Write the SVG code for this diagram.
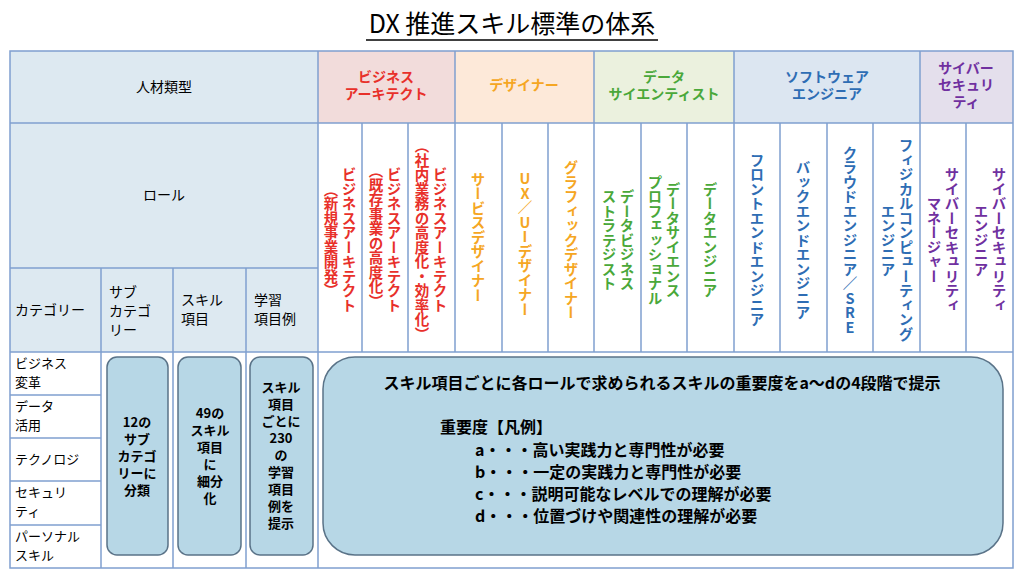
<svg xmlns="http://www.w3.org/2000/svg" width="1024" height="582" viewBox="0 0 1024 582">
<style>
text{font-family:"Noto Sans CJK JP","Noto Sans",sans-serif}
.b{font-weight:bold}
.h{font-size:14px;text-anchor:middle}
.v{writing-mode:vertical-rl;text-orientation:upright;font-size:14.5px;font-weight:bold;text-anchor:middle}
.g{stroke:#7f9fcf;stroke-width:1.5;fill:none}
.rb{fill:#b7d7e6;stroke:#5a7388;stroke-width:1.5}
.red{fill:#e8302a}.org{fill:#f5a623}.grn{fill:#4aa83a}.blu{fill:#2e6db4}.pur{fill:#7030a0}
</style>
<rect width="1024" height="582" fill="#fff"/>
<text x="512" y="33" text-anchor="middle" font-size="25">DX 推進スキル標準の体系</text>
<line x1="366" y1="40" x2="658" y2="40" stroke="#000" stroke-width="1.5"/>
<g id="backgrounds">
<rect x="10" y="51" width="308" height="301" fill="#dde9f1"/>
<rect x="318" y="51" width="137" height="72" fill="#f2dcdb"/>
<rect x="455" y="51" width="139" height="72" fill="#fde9d9"/>
<rect x="594" y="51" width="140" height="72" fill="#ebf1de"/>
<rect x="734" y="51" width="186" height="72" fill="#dce6f1"/>
<rect x="920" y="51" width="93" height="72" fill="#e4dfec"/>
</g>
<g id="grid" class="g">
<rect x="10" y="51" width="1003" height="517"/>
<line x1="10" y1="123" x2="1013" y2="123"/>
<line x1="10" y1="268" x2="318" y2="268"/>
<line x1="10" y1="352" x2="1013" y2="352"/>
<line x1="10" y1="395" x2="101" y2="395"/>
<line x1="10" y1="438" x2="101" y2="438"/>
<line x1="10" y1="481" x2="101" y2="481"/>
<line x1="10" y1="525" x2="101" y2="525"/>
<line x1="101" y1="268" x2="101" y2="568"/>
<line x1="173" y1="268" x2="173" y2="568"/>
<line x1="246" y1="268" x2="246" y2="568"/>
<line x1="318" y1="51" x2="318" y2="568"/>
<line x1="455" y1="51" x2="455" y2="352"/>
<line x1="594" y1="51" x2="594" y2="352"/>
<line x1="734" y1="51" x2="734" y2="352"/>
<line x1="920" y1="51" x2="920" y2="352"/>
<line x1="362" y1="123" x2="362" y2="352"/>
<line x1="408" y1="123" x2="408" y2="352"/>
<line x1="502" y1="123" x2="502" y2="352"/>
<line x1="548" y1="123" x2="548" y2="352"/>
<line x1="641" y1="123" x2="641" y2="352"/>
<line x1="687" y1="123" x2="687" y2="352"/>
<line x1="780" y1="123" x2="780" y2="352"/>
<line x1="827" y1="123" x2="827" y2="352"/>
<line x1="873" y1="123" x2="873" y2="352"/>
<line x1="966" y1="123" x2="966" y2="352"/>
</g>
<g id="left-headers" font-size="14">
<text x="164" y="92" text-anchor="middle">人材類型</text>
<text x="164" y="200" text-anchor="middle">ロール</text>
<text x="15" y="315">カテゴリー</text>
<text x="109" y="297">サブ</text><text x="109" y="316">カテゴ</text><text x="109" y="335">リー</text>
<text x="181" y="305">スキル</text><text x="181" y="324">項目</text>
<text x="254" y="305">学習</text><text x="254" y="324">項目例</text>
<g font-size="13">
<text x="15" y="368">ビジネス</text><text x="15" y="387">変革</text>
<text x="15" y="411">データ</text><text x="15" y="430">活用</text>
<text x="15" y="464">テクノロジ</text>
<text x="15" y="497">セキュリ</text><text x="15" y="516">ティ</text>
<text x="15" y="541">パーソナル</text><text x="15" y="560">スキル</text>
</g>
</g>
<g id="group-headers" class="b">
<text class="h red" x="386" y="82">ビジネス</text><text class="h red" x="386" y="99">アーキテクト</text>
<text class="h org" x="524" y="90">デザイナー</text>
<text class="h grn" x="664" y="82">データ</text><text class="h grn" x="664" y="99">サイエンティスト</text>
<text class="h blu" x="827" y="82">ソフトウェア</text><text class="h blu" x="827" y="99">エンジニア</text>
<text class="h pur" x="966" y="73">サイバー</text><text class="h pur" x="966" y="90">セキュリ</text><text class="h pur" x="966" y="107">ティ</text>
</g>
<g id="roles">
<text class="v red" x="349" y="240">ビジネスアーキテクト</text><text class="v red" x="331" y="240">（新規事業開発）</text>
<text class="v red" x="394" y="240">ビジネスアーキテクト</text><text class="v red" x="376" y="236">（既存事業の高度化）</text>
<text class="v red" x="440" y="240">ビジネスアーキテクト</text><text class="v red" x="422" y="240">（社内業務の高度化・効率化）</text>
<text class="v org" x="478" y="237">サービスデザイナー</text>
<text class="v org" x="525" y="244">UX／UIデザイナー</text>
<text class="v org" x="571" y="240">グラフィックデザイナー</text>
<text class="v grn" x="627" y="240">データビジネス</text><text class="v grn" x="609" y="240">ストラテジスト</text>
<text class="v grn" x="673" y="240">データサイエンス</text><text class="v grn" x="655" y="240">プロフェッショナル</text>
<text class="v grn" x="710" y="240">データエンジニア</text>
<text class="v blu" x="757" y="240">フロントエンドエンジニア</text>
<text class="v blu" x="803" y="240">バックエンドエンジニア</text>
<text class="v blu" x="850" y="240">クラウドエンジニア／SRE</text>
<text class="v blu" x="906" y="240">フィジカルコンピューティング</text><text class="v blu" x="888" y="240">エンジニア</text>
<text class="v pur" x="952" y="240">サイバーセキュリティ</text><text class="v pur" x="934" y="240">マネージャー</text>
<text class="v pur" x="999" y="240">サイバーセキュリティ</text><text class="v pur" x="981" y="240">エンジニア</text>
</g>
<g id="box-sub">
<rect class="rb" x="107" y="357" width="61" height="198" rx="10"/>
<g class="b" font-size="13" text-anchor="middle">
<text x="137" y="427">12の</text><text x="137" y="444">サブ</text><text x="137" y="461">カテゴ</text><text x="137" y="478">リーに</text><text x="137" y="495">分類</text>
</g></g>
<g id="box-skill">
<rect class="rb" x="178" y="357" width="63" height="198" rx="10"/>
<g class="b" font-size="13" text-anchor="middle">
<text x="210" y="418">49の</text><text x="210" y="435">スキル</text><text x="210" y="452">項目</text><text x="210" y="469">に</text><text x="210" y="486">細分</text><text x="210" y="503">化</text>
</g></g>
<g id="box-learn">
<rect class="rb" x="250" y="357" width="63" height="198" rx="10"/>
<g class="b" font-size="13" text-anchor="middle">
<text x="281" y="392">スキル</text><text x="281" y="409">項目</text><text x="281" y="426">ごとに</text><text x="281" y="443">230</text><text x="281" y="460">の</text><text x="281" y="477">学習</text><text x="281" y="494">項目</text><text x="281" y="511">例を</text><text x="281" y="528">提示</text>
</g></g>
<g id="box-main">
<rect class="rb" x="323" y="357" width="680" height="198" rx="32"/>
<g class="b" font-size="16">
<text x="662" y="389" text-anchor="middle">スキル項目ごとに各ロールで求められるスキルの重要度をa～dの4段階で提示</text>
<text x="440" y="433">重要度【凡例】</text>
<text x="475" y="456">a・・・高い実践力と専門性が必要</text>
<text x="475" y="478">b・・・一定の実践力と専門性が必要</text>
<text x="475" y="500">c・・・説明可能なレベルでの理解が必要</text>
<text x="475" y="522">d・・・位置づけや関連性の理解が必要</text>
</g></g>
<g id="connectors"/>
</svg>
